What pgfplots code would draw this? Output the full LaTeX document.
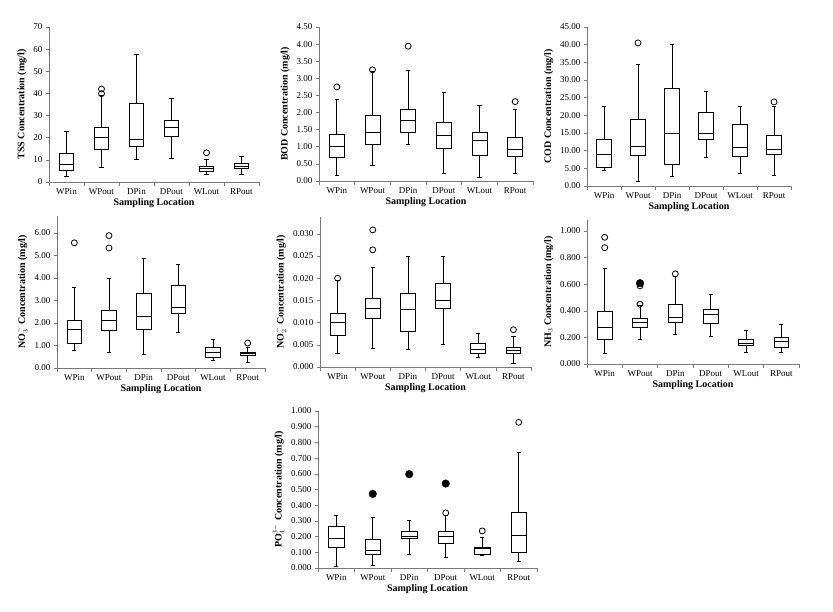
\documentclass[border=0pt]{standalone}
\usepackage{pgfplots}
\pgfplotsset{compat=1.18}
\usepgfplotslibrary{statistics}
\usepackage{fontspec}
\setmainfont{Liberation Serif}
\definecolor{axgray}{RGB}{120,120,120}
\pgfplotsset{
  panel/.style={
    scale only axis,
    axis x line*=bottom, axis y line*=left,
    axis line style={axgray, line width=0.7pt},
    xmin=-0.5, xmax=5.5,
    xtick={0,1,2,3,4,5},
    xticklabels={WPin,WPout,DPin,DPout,WLout,RPout},
    minor xtick={-0.5,0.5,1.5,2.5,3.5,4.5,5.5},
    major x tick style={draw=none},
    minor x tick style={axgray, line width=0.6pt},
    y tick style={axgray, line width=0.6pt},
    tick align=outside, major tick length=3pt, minor tick length=4pt,
    tick label style={font=\fontsize{9}{10}\selectfont},
    xlabel={Sampling Location},
    label style={font=\fontsize{10}{11}\selectfont\bfseries},
    xlabel style={yshift=3pt},
    scaled y ticks=false,
    /pgf/number format/assume math mode=true,
    clip=false,
    boxplot/draw direction=y,
  },
  bx/.style={black, line width=0.8pt, boxplot/box extend=0.42, boxplot/whisker extend=0.12},
  outl/.style={only marks, mark=o, mark size=3pt, black, line width=0.8pt},
  outf/.style={only marks, mark=*, mark size=3.8pt, black},
}
\newcommand{\bx}[6]{\addplot[bx, boxplot prepared={draw position=#1, lower whisker=#2, lower quartile=#3, median=#4, upper quartile=#5, upper whisker=#6}] coordinates {};}
\begin{document}
\begin{tikzpicture}
\path[use as bounding box] (0pt,0pt) rectangle (833pt,-611pt);
% TSS
\begin{axis}[panel, at={(49pt,-182pt)}, anchor=south west, width=210pt, height=155pt,
  ymin=0, ymax=70, ytick={0,10,20,30,40,50,60,70},
  ylabel={TSS Concentration (mg/l)}]
\bx{0}{2.6}{5.3}{8.0}{13.1}{22.8}
\bx{1}{6.8}{14.8}{20.3}{24.7}{39.0}
\bx{2}{10.4}{16.1}{19.1}{35.4}{57.5}
\bx{3}{10.8}{20.8}{24.5}{27.8}{37.6}
\bx{4}{3.5}{5.0}{6.0}{7.2}{10.1}
\bx{5}{3.6}{6.0}{7.1}{8.3}{11.6}
\addplot[outl] coordinates {(1,39.9) (1,42.0) (4,13.2)};
\end{axis}
% BOD
\begin{axis}[panel, at={(319pt,-181pt)}, anchor=south west, width=214pt, height=154pt,
  ymin=0, ymax=4.5, ytick={0,0.5,1,1.5,2,2.5,3,3.5,4,4.5},
  yticklabel style={/pgf/number format/.cd, fixed, fixed zerofill, precision=2},
  ylabel={BOD Concentration (mg/l)}]
\bx{0}{0.15}{0.69}{1.00}{1.36}{2.39}
\bx{1}{0.45}{1.06}{1.41}{1.92}{3.20}
\bx{2}{1.07}{1.41}{1.76}{2.09}{3.22}
\bx{3}{0.22}{0.96}{1.34}{1.70}{2.58}
\bx{4}{0.11}{0.74}{1.20}{1.42}{2.21}
\bx{5}{0.21}{0.72}{0.93}{1.26}{2.08}
\addplot[outl] coordinates {(0,2.75) (1,3.25) (2,3.94) (5,2.32)};
\end{axis}
% COD
\begin{axis}[panel, at={(587pt,-186pt)}, anchor=south west, width=204pt, height=159pt,
  ymin=0, ymax=45, ytick={0,5,10,15,20,25,30,35,40,45},
  yticklabel style={/pgf/number format/.cd, fixed, fixed zerofill, precision=2},
  ylabel={COD Concentration (mg/l)}]
\bx{0}{4.4}{5.2}{9.0}{13.1}{22.5}
\bx{1}{1.3}{8.6}{11.3}{18.9}{34.3}
\bx{2}{2.8}{6.0}{15.0}{27.5}{40.0}
\bx{3}{8.2}{13.2}{15.0}{20.9}{26.9}
\bx{4}{3.7}{8.4}{11.0}{17.5}{22.5}
\bx{5}{3.0}{9.0}{10.5}{14.3}{22.4}
\addplot[outl] coordinates {(1,40.5) (5,23.8)};
\end{axis}
% NO3
\begin{axis}[panel, at={(57pt,-368pt)}, anchor=south west, width=208pt, height=152pt,
  ymin=0, ymax=6.75, ytick={0,1,2,3,4,5,6},
  yticklabel style={/pgf/number format/.cd, fixed, fixed zerofill, precision=2},
  ylabel={NO$_3^-$ Concentration (mg/l)}]
\bx{0}{0.79}{1.11}{1.70}{2.12}{3.60}
\bx{1}{0.71}{1.66}{2.10}{2.56}{3.96}
\bx{2}{0.59}{1.73}{2.30}{3.30}{4.86}
\bx{3}{1.60}{2.44}{2.67}{3.66}{4.59}
\bx{4}{0.34}{0.49}{0.71}{0.92}{1.26}
\bx{5}{0.27}{0.55}{0.64}{0.71}{0.93}
\addplot[outl] coordinates {(0,5.56) (1,5.33) (1,5.88) (5,1.11)};
\end{axis}
% NO2
\begin{axis}[panel, at={(320pt,-367pt)}, anchor=south west, width=211pt, height=150pt,
  ymin=0, ymax=0.0338, ytick={0,0.005,0.010,0.015,0.020,0.025,0.030},
  yticklabel style={/pgf/number format/.cd, fixed, fixed zerofill, precision=3},
  ylabel={NO$_2^-$ Concentration (mg/l)}]
\bx{0}{0.0031}{0.0071}{0.0101}{0.0120}{0.0195}
\bx{1}{0.0043}{0.0109}{0.0131}{0.0155}{0.0224}
\bx{2}{0.0040}{0.0080}{0.0130}{0.0166}{0.0250}
\bx{3}{0.0051}{0.0133}{0.0151}{0.0188}{0.0250}
\bx{4}{0.0022}{0.0031}{0.0040}{0.0054}{0.0076}
\bx{5}{0.0009}{0.0031}{0.0038}{0.0045}{0.0068}
\addplot[outl] coordinates {(0,0.0200) (1,0.0264) (1,0.0309) (5,0.0084)};
\end{axis}
% NH3
\begin{axis}[panel, at={(587pt,-364pt)}, anchor=south west, width=212pt, height=144pt,
  ymin=0, ymax=1.083, ytick={0,0.2,0.4,0.6,0.8,1.0},
  yticklabel style={/pgf/number format/.cd, fixed, fixed zerofill, precision=3},
  ylabel={NH$_3$ Concentration (mg/l)}]
\bx{0}{0.083}{0.183}{0.278}{0.398}{0.720}
\bx{1}{0.183}{0.278}{0.310}{0.345}{0.440}
\bx{2}{0.220}{0.313}{0.350}{0.450}{0.658}
\bx{3}{0.208}{0.303}{0.370}{0.410}{0.525}
\bx{4}{0.088}{0.138}{0.158}{0.183}{0.253}
\bx{5}{0.088}{0.128}{0.168}{0.200}{0.295}
\addplot[outl] coordinates {(0,0.875) (0,0.953) (1,0.450) (1,0.588) (2,0.678)};
\addplot[outf] coordinates {(1,0.608)};
\end{axis}
% PO4
\begin{axis}[panel, at={(318pt,-568pt)}, anchor=south west, width=219pt, height=157pt,
  ymin=0, ymax=1.0, ytick={0,0.1,0.2,0.3,0.4,0.5,0.6,0.7,0.8,0.9,1.0},
  yticklabel style={/pgf/number format/.cd, fixed, fixed zerofill, precision=3},
  ylabel={PO$_4^{3-}$ Concentration (mg/l)}]
\bx{0}{0.013}{0.134}{0.187}{0.262}{0.332}
\bx{1}{0.017}{0.087}{0.113}{0.181}{0.321}
\bx{2}{0.085}{0.188}{0.202}{0.234}{0.304}
\bx{3}{0.070}{0.158}{0.202}{0.230}{0.336}
\bx{4}{0.081}{0.087}{0.123}{0.134}{0.198}
\bx{5}{0.045}{0.100}{0.209}{0.355}{0.735}
\addplot[outl] coordinates {(3,0.351) (4,0.236) (5,0.928)};
\addplot[outf] coordinates {(1,0.472) (2,0.598) (3,0.538)};
\end{axis}
\end{tikzpicture}
\end{document}
